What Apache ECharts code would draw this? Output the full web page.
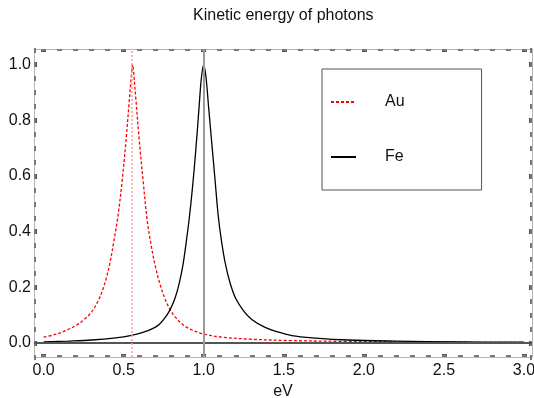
<!DOCTYPE html>
<html>
<head>
<meta charset="utf-8">
<script src="https://cdn.jsdelivr.net/npm/echarts@6/dist/echarts.min.js"></script>
<style>
  html, body { margin: 0; padding: 0; background: #fff; }
  #main { width: 534px; height: 398px; }
</style>
</head>
<body>
<div id="main"></div>
<script>
// Au curve (red, dashed)
const auX = [0, 0.08, 0.15, 0.21, 0.26, 0.3, 0.335, 0.365, 0.39, 0.415, 0.44, 0.465, 0.49, 0.515, 0.535, 0.548, 0.556, 0.564, 0.577, 0.597, 0.622, 0.647, 0.672, 0.698, 0.725, 0.752, 0.785, 0.82, 0.87, 0.93, 1.01, 1.12, 1.29, 1.54, 1.9, 2.3, 3.0]
const auY = [0.021, 0.032, 0.048, 0.066, 0.088, 0.112, 0.145, 0.185, 0.23, 0.29, 0.37, 0.46, 0.58, 0.73, 0.87, 0.96, 1.0, 0.96, 0.87, 0.73, 0.58, 0.44, 0.35, 0.275, 0.215, 0.168, 0.125, 0.095, 0.066, 0.046, 0.031, 0.021, 0.014, 0.009, 0.006, 0.004, 0.002]

// Fe curve (black, solid)
const feX = [0, 0.15, 0.3, 0.45, 0.55, 0.62, 0.68, 0.72, 0.76, 0.79, 0.82, 0.845, 0.87, 0.89, 0.91, 0.93, 0.95, 0.97, 0.985, 1.0, 1.015, 1.03, 1.05, 1.07, 1.09, 1.11, 1.135, 1.165, 1.2, 1.25, 1.3, 1.38, 1.45, 1.55, 1.7, 1.9, 2.2, 2.6, 3.0]
const feY = [0.004, 0.007, 0.011, 0.019, 0.028, 0.038, 0.052, 0.066, 0.092, 0.12, 0.16, 0.21, 0.28, 0.36, 0.45, 0.56, 0.69, 0.84, 0.95, 1.0, 0.95, 0.85, 0.72, 0.59, 0.46, 0.37, 0.285, 0.215, 0.16, 0.115, 0.085, 0.057, 0.042, 0.027, 0.018, 0.011, 0.007, 0.004, 0.003]

// reference lines
const auLine = 0.55
const feLine = 1.0

// frame ticks
const xMajor = [0, 0.5, 1, 1.5, 2, 2.5, 3]
const xMinor = [0, 0.1, 0.2, 0.3, 0.4, 0.5, 0.6, 0.7, 0.8, 0.9, 1, 1.1, 1.2, 1.3, 1.4, 1.5, 1.6, 1.7, 1.8, 1.9, 2, 2.1, 2.2, 2.3, 2.4, 2.5, 2.6, 2.7, 2.8, 2.9, 3]
const yMajor = [0, 0.2, 0.4, 0.6, 0.8, 1]
const yMinor = [-0.05, 0, 0.05, 0.1, 0.15, 0.2, 0.25, 0.3, 0.35, 0.4, 0.45, 0.5, 0.55, 0.6, 0.65, 0.7, 0.75, 0.8, 0.85, 0.9, 0.95, 1, 1.05]

const font = 'Liberation Sans, Arial, Helvetica, sans-serif'
const zip = (xs, ys) => xs.map((x, i) => [x, ys[i]])

function frameAxis(pos, min, max, ticks, major, labels) {
  return {
    type: 'value',
    position: pos,
    min: min,
    max: max,
    splitLine: { show: false },
    axisLine: { show: major, onZero: false, lineStyle: { color: '#b4b4b4', width: 1 } },
    axisTick: {
      show: true,
      inside: true,
      customValues: ticks,
      length: major ? 3 : 2,
      lineStyle: { color: major ? '#555' : '#777', width: 5 }
    },
    axisLabel: labels ? {
      show: true,
      customValues: ticks,
      formatter: (v) => v.toFixed(1),
      fontFamily: font,
      fontSize: 16,
      color: '#111',
      margin: pos === 'bottom' ? 6 : 3
    } : { show: false }
  }
}

const xAxes = [
  frameAxis('bottom', -0.06, 3.05, xMajor, true, true),
  frameAxis('bottom', -0.06, 3.05, xMinor, false, false),
  frameAxis('top', -0.06, 3.05, xMajor, true, false),
  frameAxis('top', -0.06, 3.05, xMinor, false, false)
]
Object.assign(xAxes[0], {
  name: 'eV',
  nameLocation: 'middle',
  nameGap: 26,
  nameTextStyle: { fontFamily: font, fontSize: 16, color: '#111' }
})

const yAxes = [
  frameAxis('left', -0.05, 1.056, yMajor, true, true),
  frameAxis('left', -0.05, 1.056, yMinor, false, false),
  frameAxis('right', -0.05, 1.056, yMajor, true, false),
  frameAxis('right', -0.05, 1.056, yMinor, false, false)
]

const chart = echarts.init(document.getElementById('main'))
chart.setOption({
  animation: false,
  backgroundColor: '#fff',
  title: {
    text: 'Kinetic energy of photons',
    left: 188,
    top: 3,
    textStyle: { fontFamily: font, fontSize: 16, fontWeight: 'normal', color: '#111' }
  },
  legend: {
    data: ['Au', 'Fe'],
    orient: 'vertical',
    left: 322,
    top: 69,
    padding: [25, 77, 25, 8],
    itemGap: 39,
    itemWidth: 25,
    itemHeight: 14,
    borderColor: '#555',
    borderWidth: 1,
    itemStyle: { opacity: 0 },
    textStyle: { fontFamily: font, fontSize: 16, color: '#111', padding: [0, 0, 0, 24] }
  },
  grid: { left: 34, right: 2, top: 49, bottom: 41, outerBoundsMode: 'none' },
  xAxis: xAxes,
  yAxis: yAxes,
  series: [
    {
      name: 'Au',
      type: 'line',
      data: zip(auX, auY),
      symbol: 'none',
      smooth: 0.35,
      z: 3,
      lineStyle: { color: '#ff0000', width: 1.3, type: [3, 2] },
      itemStyle: { color: '#ff0000' },
      markLine: {
        silent: true,
        symbol: 'none',
        label: { show: false },
        data: [
          { yAxis: 0, lineStyle: { color: '#555', width: 2, type: 'solid' } },
          { xAxis: auLine, lineStyle: { color: '#ff9c9c', width: 1.5, type: [2, 2] } },
          { xAxis: feLine, lineStyle: { color: '#9a9a9a', width: 2, type: 'solid' } }
        ]
      }
    },
    {
      name: 'Fe',
      type: 'line',
      data: zip(feX, feY),
      symbol: 'none',
      smooth: 0.35,
      z: 4,
      lineStyle: { color: '#000', width: 1.3 },
      itemStyle: { color: '#000' }
    }
  ]
})
</script>
</body>
</html>
